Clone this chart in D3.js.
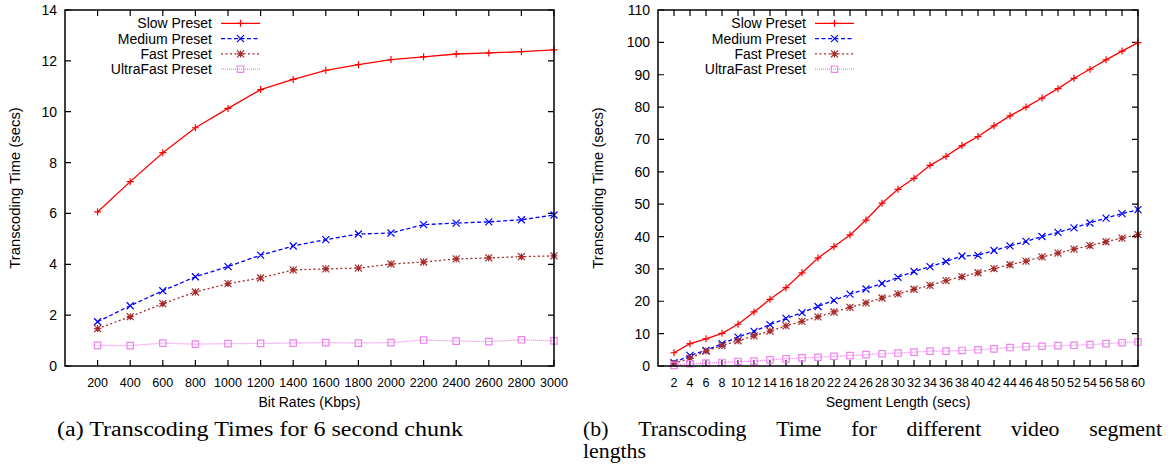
<!DOCTYPE html>
<meta charset="utf-8" />
<title>Transcoding Time charts</title>
<style>
  body { margin: 0; background: #fff; }
  svg { display: block; }
  text { font-family: "Liberation Sans", Arial, sans-serif; fill: #000; }
  .tick-y { font-size: 14px; }
  .tick-x { font-size: 12.5px; }
  .axis-title { font-size: 14px; }
  .y-title { font-size: 14.8px; }
  .legend text { font-size: 14px; }
  .caption { font-family: "Liberation Serif", "Times New Roman", serif; font-size: 20px; }
  .frame { fill: none; stroke: #000; stroke-width: 1.5px; }
  .tick { stroke: #000; stroke-width: 1.2px; }
</style>

<svg width="1172" height="465"></svg>

<script src="https://d3js.org/d3.v7.min.js"></script>
<script>
// ---- data ----
const presets = ["Slow Preset", "Medium Preset", "Fast Preset", "UltraFast Preset"];

// (a) 6 second chunk, by bit rate
const bitRates = [200, 400, 600, 800, 1000, 1200, 1400, 1600, 1800, 2000, 2200, 2400, 2600, 2800, 3000];
const slowByRate   = [6.06, 7.25, 8.39, 9.37, 10.13, 10.87, 11.27, 11.63, 11.85, 12.05, 12.16, 12.27, 12.31, 12.36, 12.43];
const mediumByRate = [1.74, 2.37, 2.96, 3.51, 3.91, 4.36, 4.72, 4.97, 5.19, 5.23, 5.56, 5.62, 5.67, 5.75, 5.94];
const fastByRate   = [1.47, 1.94, 2.45, 2.91, 3.24, 3.46, 3.78, 3.82, 3.85, 4.01, 4.09, 4.21, 4.25, 4.30, 4.33];
const ultraByRate  = [0.81, 0.80, 0.90, 0.86, 0.88, 0.89, 0.90, 0.92, 0.90, 0.92, 1.02, 0.98, 0.96, 1.03, 0.99];
const yTicksA = [0, 2, 4, 6, 8, 10, 12, 14];

// (b) by segment length
const segLengths = [2, 4, 6, 8, 10, 12, 14, 16, 18, 20, 22, 24, 26, 28, 30, 32, 34, 36, 38, 40, 42, 44, 46, 48, 50, 52, 54, 56, 58, 60];
const slowBySeg   = [4.1, 6.9, 8.4, 10.1, 12.9, 16.7, 20.6, 24.2, 28.8, 33.4, 36.9, 40.5, 45.1, 50.3, 54.6, 58.0, 62.0, 64.8, 68.1, 70.9, 74.2, 77.3, 80.0, 82.8, 85.7, 88.9, 91.7, 94.6, 97.3, 99.9];
const mediumBySeg = [1.0, 3.3, 4.8, 6.9, 8.9, 10.7, 12.8, 14.7, 16.5, 18.4, 20.3, 22.2, 23.8, 25.5, 27.4, 29.2, 30.7, 32.3, 34.0, 34.2, 35.7, 37.1, 38.5, 40.0, 41.3, 42.7, 44.2, 45.7, 47.1, 48.3];
const fastBySeg   = [0.8, 2.4, 4.6, 6.3, 7.8, 9.3, 10.8, 12.4, 13.8, 15.2, 16.7, 18.1, 19.5, 21.0, 22.3, 23.7, 24.9, 26.4, 27.6, 28.8, 30.1, 31.3, 32.4, 33.7, 34.9, 36.1, 37.2, 38.4, 39.5, 40.6];
const ultraBySeg  = [0.2, 0.7, 0.9, 1.1, 1.4, 1.5, 1.9, 2.2, 2.5, 2.7, 3.0, 3.2, 3.5, 3.8, 4.0, 4.3, 4.6, 4.6, 4.8, 5.0, 5.3, 5.7, 6.0, 6.1, 6.3, 6.4, 6.6, 6.9, 7.2, 7.4];
const yTicksB = [0, 10, 20, 30, 40, 50, 60, 70, 80, 90, 100, 110];

// ---- styles per preset ----
const styles = [
  { color: "#ff0000", dash: null,    marker: "plus" },
  { color: "#0000ff", dash: "4,2.5", marker: "cross" },
  { color: "#a52a2a", dash: "2,2.5", marker: "star" },
  { color: "#ee82ee", dash: "1,1",   marker: "square" }
];

const svg = d3.select("svg");

function markerPath(type, x, y, r) {
  const plus = `M${x - r},${y}H${x + r}M${x},${y - r}V${y + r}`;
  const cross = `M${x - r},${y - r}L${x + r},${y + r}M${x - r},${y + r}L${x + r},${y - r}`;
  if (type === "plus") return plus;
  if (type === "cross") return cross;
  if (type === "star") return plus + cross;
  return `M${x - r},${y - r}H${x + r}V${y + r}H${x - r}Z`;
}

function drawPanel(p) {
  const x = d3.scaleLinear().domain(p.xDomain).range([p.left, p.right]);
  const y = d3.scaleLinear().domain(p.yDomain).range([p.bottom, p.top]);
  const g = svg.append("g");
  const tl = 6;

  // ticks (mirrored, inward)
  g.selectAll(".ty").data(p.yTicks).enter().append("path")
    .attr("class", "tick")
    .attr("d", d => `M${p.left},${y(d)}h${tl}M${p.right},${y(d)}h${-tl}`);
  g.selectAll(".tx").data(p.xTicks).enter().append("path")
    .attr("class", "tick")
    .attr("d", d => `M${x(d)},${p.bottom}v${-tl}M${x(d)},${p.top}v${tl}`);

  g.selectAll(".ly").data(p.yTicks).enter().append("text")
    .attr("class", "tick-y")
    .attr("x", p.left - 8)
    .attr("y", d => y(d) + 5)
    .attr("text-anchor", "end")
    .text(d => d);
  g.selectAll(".lx").data(p.xTicks).enter().append("text")
    .attr("class", "tick-x")
    .attr("x", d => x(d))
    .attr("y", 387)
    .attr("text-anchor", "middle")
    .text(d => d);

  g.append("text").attr("class", "axis-title")
    .attr("x", (p.left + p.right) / 2).attr("y", 407)
    .attr("text-anchor", "middle").text(p.xTitle);
  g.append("text").attr("class", "y-title")
    .attr("transform", `translate(${p.yTitleX},${(p.top + p.bottom) / 2}) rotate(-90)`)
    .attr("text-anchor", "middle").text("Transcoding Time (secs)");

  // series
  const line = d3.line().x(d => x(d[0])).y(d => y(d[1]));
  p.series.forEach((vals, i) => {
    const st = styles[i];
    const pts = p.xValues.map((v, j) => [v, vals[j]]);
    g.append("path")
      .attr("d", line(pts))
      .attr("fill", "none")
      .attr("stroke", st.color)
      .attr("stroke-width", 1.3)
      .attr("stroke-dasharray", st.dash);
    g.append("path")
      .attr("d", pts.map(d => markerPath(st.marker, x(d[0]), y(d[1]), st.marker === "square" ? 3.2 : 3.5)).join(""))
      .attr("fill", "none")
      .attr("stroke", st.color)
      .attr("stroke-width", 1.2);
  });

  g.append("rect").attr("class", "frame")
    .attr("x", p.left).attr("y", p.top)
    .attr("width", p.right - p.left).attr("height", p.bottom - p.top);

  // legend
  const lg = g.append("g").attr("class", "legend");
  presets.forEach((name, i) => {
    const st = styles[i];
    const cy = 23.3 + i * 15.3;
    lg.append("text").attr("x", p.legendX).attr("y", cy + 5)
      .attr("text-anchor", "end").text(name);
    lg.append("line")
      .attr("x1", p.legendX + 9).attr("x2", p.legendX + 48)
      .attr("y1", cy).attr("y2", cy)
      .attr("stroke", st.color).attr("stroke-width", 1.3)
      .attr("stroke-dasharray", st.dash);
    lg.append("path")
      .attr("d", markerPath(st.marker, p.legendX + 28.5, cy, st.marker === "square" ? 3.2 : 3.5))
      .attr("fill", "none").attr("stroke", st.color).attr("stroke-width", 1.2);
  });
}

drawPanel({
  left: 65, right: 554, top: 10, bottom: 366,
  xDomain: [0, 3000], yDomain: [0, 14],
  xTicks: bitRates, yTicks: yTicksA, xValues: bitRates,
  series: [slowByRate, mediumByRate, fastByRate, ultraByRate],
  xTitle: "Bit Rates (Kbps)", yTitleX: 20, legendX: 212
});

drawPanel({
  left: 658, right: 1138, top: 10, bottom: 366,
  xDomain: [0, 60], yDomain: [0, 110],
  xTicks: segLengths, yTicks: yTicksB, xValues: segLengths,
  series: [slowBySeg, mediumBySeg, fastBySeg, ultraBySeg],
  xTitle: "Segment Length (secs)", yTitleX: 603, legendX: 806
});

// captions
svg.append("text").attr("class", "caption")
  .attr("x", 57).attr("y", 436)
  .attr("textLength", 406).attr("lengthAdjust", "spacingAndGlyphs")
  .text("(a) Transcoding Times for 6 second chunk");

const wordsB = ["(b)", "Transcoding", "Time", "for", "different", "video", "segment"];
const wordEls = wordsB.map(w => svg.append("text").attr("class", "caption").attr("y", 436).text(w));
const widths = wordEls.map(el => el.node().getComputedTextLength() * 1.09);
const gap = (1162 - 583 - d3.sum(widths)) / (wordsB.length - 1);
let cx = 583;
wordEls.forEach((el, i) => {
  el.attr("x", cx).attr("textLength", widths[i]).attr("lengthAdjust", "spacingAndGlyphs");
  cx += widths[i] + gap;
});
const lengthsEl = svg.append("text").attr("class", "caption").attr("x", 583).attr("y", 458).text("lengths");
lengthsEl.attr("textLength", lengthsEl.node().getComputedTextLength() * 1.09).attr("lengthAdjust", "spacingAndGlyphs");
</script>
